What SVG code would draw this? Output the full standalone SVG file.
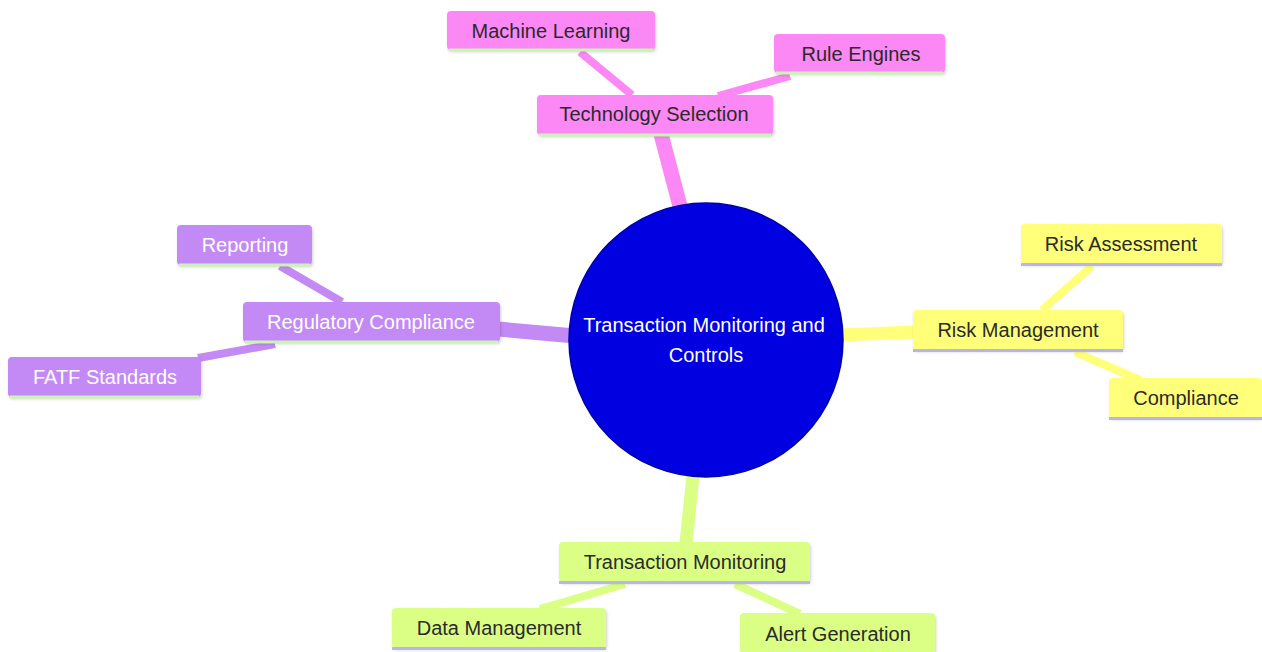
<svg xmlns="http://www.w3.org/2000/svg" width="1262" height="652" viewBox="0 0 1262 652">
<defs>
<filter id="sh" x="-10%" y="-20%" width="120%" height="150%">
<feDropShadow dx="1" dy="2" stdDeviation="1.5" flood-color="#000" flood-opacity="0.18"/>
</filter>
<style>
text{font-family:"Liberation Sans",Arial,sans-serif;font-size:20px;text-anchor:middle;dominant-baseline:central}
.e{fill:none;stroke-linecap:butt}
.pk{fill:#fb88f5}
.pu{fill:#c38af5}
.ye{fill:#ffff7a}
.gr{fill:#daff84}
.lg{stroke:#c9f5b4;stroke-width:3}
.ll{stroke:#b8b4ee;stroke-width:3}
.dk{fill:#2a2a2a}
.wh{fill:#fff}
</style>
</defs>
<rect width="1262" height="652" fill="#fff"/>
<g id="connectors">
<line class="e" x1="661" y1="134" x2="681" y2="210" stroke="#fb88f5" stroke-width="15"/>
<line class="e" x1="580" y1="52" x2="632" y2="95" stroke="#fb88f5" stroke-width="8"/>
<line class="e" x1="790" y1="76" x2="718" y2="96" stroke="#fb88f5" stroke-width="8"/>
<line class="e" x1="498" y1="329" x2="575" y2="336" stroke="#c38af5" stroke-width="15"/>
<line class="e" x1="280" y1="266" x2="342" y2="302" stroke="#c38af5" stroke-width="8"/>
<line class="e" x1="198" y1="358" x2="275" y2="344" stroke="#c38af5" stroke-width="8"/>
<line class="e" x1="840" y1="335" x2="915" y2="332" stroke="#ffff7a" stroke-width="13"/>
<line class="e" x1="1092" y1="266" x2="1042" y2="310" stroke="#ffff7a" stroke-width="8"/>
<line class="e" x1="1075" y1="352" x2="1140" y2="380" stroke="#ffff7a" stroke-width="8"/>
<line class="e" x1="693" y1="475" x2="686" y2="543" stroke="#daff84" stroke-width="13"/>
<line class="e" x1="625" y1="584" x2="540" y2="609" stroke="#daff84" stroke-width="8"/>
<line class="e" x1="735" y1="584" x2="800" y2="614" stroke="#daff84" stroke-width="8"/>
</g>
<g id="root">
<circle cx="706" cy="340" r="137" fill="#0000e0" stroke="#0000a8" stroke-width="1.5"/>
<text class="wh" x="704" y="325">Transaction Monitoring and</text>
<text class="wh" x="706" y="355">Controls</text>
</g>
<g id="tech">
<rect class="pk" x="537" y="95" width="236" height="40" rx="4" filter="url(#sh)"/>
<line class="lg" x1="539" y1="135" x2="771" y2="135"/>
<text class="dk" x="654" y="114">Technology Selection</text>
</g>
<g id="ml">
<rect class="pk" x="447" y="11" width="208" height="39" rx="4" filter="url(#sh)"/>
<line class="lg" x1="449" y1="50" x2="653" y2="50"/>
<text class="dk" x="551" y="31">Machine Learning</text>
</g>
<g id="rules">
<rect class="pk" x="774" y="34" width="171" height="39" rx="4" filter="url(#sh)"/>
<line class="lg" x1="776" y1="73" x2="943" y2="73"/>
<text class="dk" x="861" y="54">Rule Engines</text>
</g>
<g id="reg">
<rect class="pu" x="243" y="302" width="257" height="40" rx="4" filter="url(#sh)"/>
<line class="lg" x1="245" y1="342" x2="498" y2="342"/>
<text class="wh" x="371" y="322">Regulatory Compliance</text>
</g>
<g id="reporting">
<rect class="pu" x="177" y="225" width="135" height="40" rx="4" filter="url(#sh)"/>
<line class="lg" x1="179" y1="265" x2="310" y2="265"/>
<text class="wh" x="245" y="245">Reporting</text>
</g>
<g id="fatf">
<rect class="pu" x="8" y="357" width="193" height="40" rx="4" filter="url(#sh)"/>
<line class="lg" x1="10" y1="397" x2="199" y2="397"/>
<text class="wh" x="105" y="377">FATF Standards</text>
</g>
<g id="risk">
<rect class="ye" x="913" y="310" width="210" height="40" rx="4" filter="url(#sh)"/>
<line class="ll" x1="913" y1="350.5" x2="1123" y2="350.5"/>
<text class="dk" x="1018" y="330">Risk Management</text>
</g>
<g id="riskassess">
<rect class="ye" x="1021" y="224" width="201" height="40" rx="4" filter="url(#sh)"/>
<line class="ll" x1="1021" y1="264.5" x2="1222" y2="264.5"/>
<text class="dk" x="1121" y="244">Risk Assessment</text>
</g>
<g id="compliance">
<rect class="ye" x="1109" y="378" width="153" height="40" rx="4" filter="url(#sh)"/>
<line class="ll" x1="1109" y1="418.5" x2="1262" y2="418.5"/>
<text class="dk" x="1186" y="398">Compliance</text>
</g>
<g id="txmon">
<rect class="gr" x="559" y="542" width="251" height="40" rx="4" filter="url(#sh)"/>
<line class="ll" x1="559" y1="582.5" x2="810" y2="582.5"/>
<text class="dk" x="685" y="562">Transaction Monitoring</text>
</g>
<g id="data">
<rect class="gr" x="392" y="608" width="214" height="40" rx="4" filter="url(#sh)"/>
<line class="ll" x1="392" y1="648.5" x2="606" y2="648.5"/>
<text class="dk" x="499" y="628">Data Management</text>
</g>
<g id="alert">
<rect class="gr" x="740" y="613" width="195" height="40" rx="4" filter="url(#sh)"/>
<text class="dk" x="838" y="634">Alert Generation</text>
</g>
</svg>
